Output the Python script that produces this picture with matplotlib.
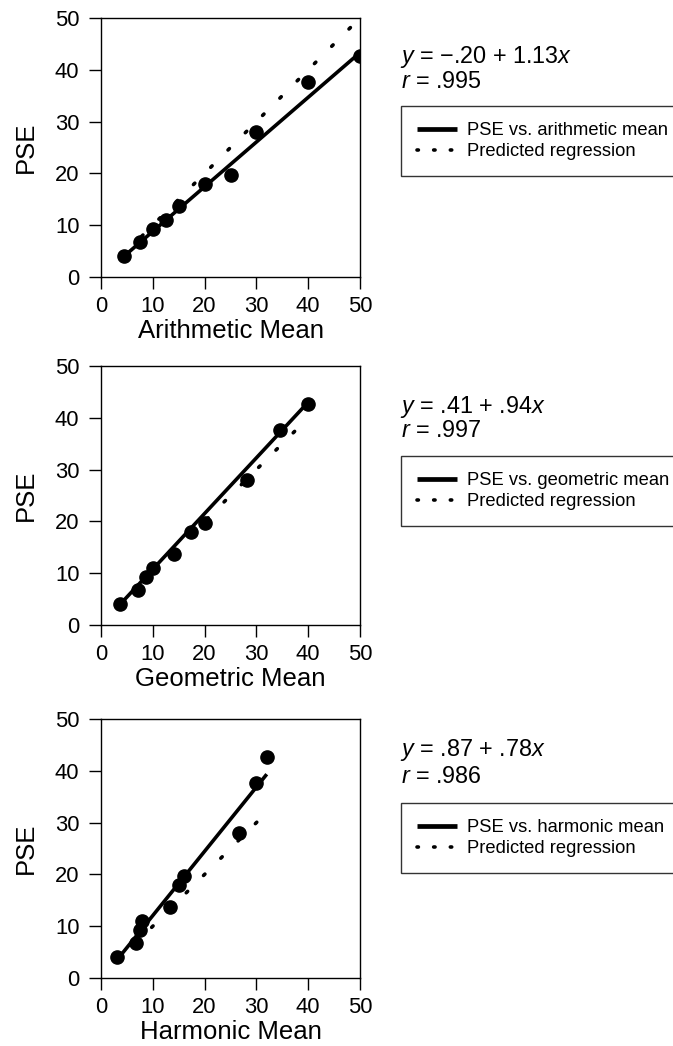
import matplotlib
matplotlib.use("Agg")
import matplotlib.pyplot as plt
from matplotlib.lines import Line2D
import numpy as np

plt.rcParams['font.family'] = ['Liberation Sans', 'DejaVu Sans']
plt.rcParams['mathtext.fontset'] = 'custom'
plt.rcParams['mathtext.rm'] = 'Liberation Sans'
plt.rcParams['mathtext.it'] = 'Liberation Sans:italic'
plt.rcParams['lines.scale_dashes'] = False

# ---- data ----
pse = [4.1, 6.8, 9.3, 11.1, 13.8, 17.9, 19.6, 27.9, 37.7, 42.6]
arith_mean = [4.5, 7.5, 10.0, 12.5, 15.0, 20.0, 25.0, 30.0, 40.0, 50.0]
geo_mean = [3.74, 7.07, 8.66, 10.0, 14.14, 17.32, 20.0, 28.28, 34.64, 40.0]
harm_mean = [3.11, 6.67, 7.5, 8.0, 13.33, 15.0, 16.0, 26.67, 30.0, 32.0]

fit_intercepts = [0.17, 0.02, -0.34]
fit_slopes = [0.863, 1.075, 1.24]

x_labels = ["Arithmetic Mean", "Geometric Mean", "Harmonic Mean"]
legend_labels = ["PSE vs. arithmetic mean", "PSE vs. geometric mean", "PSE vs. harmonic mean"]
eq_texts = ["$\\mathit{y}$ = \u2212.20 + 1.13$\\mathit{x}$",
            "$\\mathit{y}$ = .41 + .94$\\mathit{x}$",
            "$\\mathit{y}$ = .87 + .78$\\mathit{x}$"]
r_texts = ["$\\mathit{r}$ = .995", "$\\mathit{r}$ = .997", "$\\mathit{r}$ = .986"]
ticks = [0, 10, 20, 30, 40, 50]

# ---- layout (pixels) ----
W, H = 673, 1046
fig = plt.figure(figsize=(W / 100, H / 100), dpi=100)

ax_tops = [18, 366, 719]
ax_bottoms = [277, 625, 978]
ax_left, ax_right = 101, 360
eq_baselines = [63, 413, 756]
r_baselines = [88, 437, 783]
legend_tops = [106, 456, 803]

means = [arith_mean, geo_mean, harm_mean]

for i in range(3):
    ax = fig.add_axes([ax_left / W, 1 - ax_bottoms[i] / H,
                       (ax_right - ax_left) / W, (ax_bottoms[i] - ax_tops[i]) / H])
    xm = np.array(means[i])
    # predicted regression (identity)
    xr = np.array([xm.min(), xm.max()])
    ax.plot(xr, xr, color='black', lw=2.6, dashes=(1.4, 16.2),
            dash_capstyle='round', solid_capstyle='round')
    # fitted regression
    ax.plot(xr, fit_intercepts[i] + fit_slopes[i] * xr, color='black', lw=2.6,
            solid_capstyle='butt')
    ax.plot(xm, pse, 'o', color='black', ms=9.5, mec='black')

    ax.set_xlim(0, 50)
    ax.set_ylim(0, 50)
    ax.set_xticks(ticks)
    ax.set_yticks(ticks)
    ax.tick_params(direction='out', length=8.5, width=1.0, labelsize=15.8,
                   colors='black')
    ax.tick_params(axis='x', pad=5.5)
    ax.tick_params(axis='y', pad=7)
    for s in ax.spines.values():
        s.set_linewidth(1.0)
        s.set_color('black')
    ax.set_xlabel(x_labels[i], fontsize=18.5, labelpad=1)
    ax.set_ylabel("PSE", fontsize=18.5, labelpad=12)

    fig.text(400 / W, 1 - eq_baselines[i] / H, eq_texts[i], fontsize=16.8,
             ha='left', va='baseline')
    fig.text(401 / W, 1 - r_baselines[i] / H, r_texts[i], fontsize=16.8,
             ha='left', va='baseline')

    h_solid = Line2D([], [], color='black', lw=3.4, solid_capstyle='butt')
    h_dot = Line2D([], [], color='black', lw=2.6, dashes=(1.0, 11.0),
                   dash_capstyle='round')
    leg = fig.legend([h_solid, h_dot], [legend_labels[i], "Predicted regression"],
                     loc='upper left', bbox_to_anchor=(400.5 / W, 1 - legend_tops[i] / H),
                     borderaxespad=0, fontsize=13.2, frameon=True, fancybox=False,
                     handlelength=2.2, handletextpad=0.55,
                     labelspacing=0.22, borderpad=0.88)
    fr = leg.get_frame()
    fr.set_edgecolor('black')
    fr.set_linewidth(1.0)

fig.savefig("out.png", dpi=100)
